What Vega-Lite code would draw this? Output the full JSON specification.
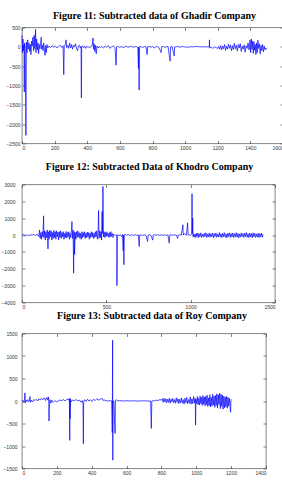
{
  "$schema": "https://vega.github.io/schema/vega-lite/v6.json",
  "background": "white",
  "padding": {"left": 0, "top": 10.5, "right": 0, "bottom": 0},
  "align": "none",
  "spacing": 0,
  "config": {
    "view": {"stroke": "#333", "strokeWidth": 0.6},
    "axis": {"domain": false, "grid": false, "tickSize": -3, "tickColor": "#333", "tickWidth": 0.6, "labelFont": "Liberation Sans", "labelFontSize": 5, "labelColor": "#333", "format": "d"},
    "title": {"font": "Liberation Serif", "fontWeight": "bold", "fontSize": 10, "color": "black", "anchor": "middle"}
  },
  "datasets": {
    "g": [
      {"x":0,"y":300},{"x":3,"y":-150},{"x":6,"y":200},{"x":9,"y":-100},{"x":12,"y":50},{"x":14,"y":-1170},{"x":16,"y":100},{"x":20,"y":-80},{"x":24,"y":-2290},{"x":27,"y":120},{"x":31,"y":-150},{"x":35,"y":180},{"x":39,"y":-60},{"x":43,"y":100},{"x":47,"y":-120},{"x":51,"y":60},{"x":55,"y":-200},{"x":59,"y":150},{"x":63,"y":20},{"x":67,"y":250},{"x":71,"y":-100},{"x":75,"y":300},{"x":79,"y":-50},{"x":83,"y":450},{"x":86,"y":-150},{"x":90,"y":200},{"x":94,"y":-80},{"x":98,"y":100},{"x":102,"y":-180},{"x":106,"y":60},{"x":110,"y":-50},{"x":114,"y":80},{"x":118,"y":250},{"x":121,"y":-60},{"x":125,"y":40},{"x":129,"y":-100},{"x":133,"y":100},{"x":137,"y":-40},{"x":141,"y":-220},{"x":145,"y":30},{"x":149,"y":-150},{"x":153,"y":60},{"x":158,"y":-30},{"x":165,"y":20},{"x":175,"y":-20},{"x":185,"y":30},{"x":195,"y":-10},{"x":205,"y":20},{"x":215,"y":-30},{"x":225,"y":10},{"x":235,"y":40},{"x":245,"y":-20},{"x":252,"y":30},{"x":256,"y":-720},{"x":259,"y":0},{"x":265,"y":60},{"x":270,"y":180},{"x":274,"y":-20},{"x":280,"y":40},{"x":286,"y":-40},{"x":292,"y":100},{"x":298,"y":-30},{"x":304,"y":60},{"x":310,"y":-60},{"x":316,"y":40},{"x":322,"y":0},{"x":328,"y":80},{"x":334,"y":-40},{"x":340,"y":-100},{"x":346,"y":20},{"x":352,"y":40},{"x":358,"y":-30},{"x":362,"y":10},{"x":364,"y":-1320},{"x":366,"y":0},{"x":372,"y":30},{"x":378,"y":-20},{"x":384,"y":10},{"x":390,"y":-40},{"x":396,"y":20},{"x":402,"y":-10},{"x":410,"y":0},{"x":418,"y":-20},{"x":425,"y":20},{"x":430,"y":30},{"x":435,"y":230},{"x":438,"y":-60},{"x":442,"y":80},{"x":446,"y":-120},{"x":450,"y":40},{"x":455,"y":-180},{"x":460,"y":20},{"x":466,"y":-30},{"x":472,"y":10},{"x":480,"y":-20},{"x":490,"y":10},{"x":500,"y":-30},{"x":510,"y":20},{"x":520,"y":-10},{"x":530,"y":30},{"x":540,"y":-40},{"x":550,"y":10},{"x":560,"y":20},{"x":570,"y":-20},{"x":577,"y":-476},{"x":580,"y":0},{"x":590,"y":10},{"x":600,"y":-20},{"x":610,"y":20},{"x":620,"y":-30},{"x":630,"y":0},{"x":640,"y":10},{"x":650,"y":-10},{"x":660,"y":0},{"x":670,"y":20},{"x":680,"y":-10},{"x":690,"y":0},{"x":700,"y":10},{"x":710,"y":-20},{"x":714,"y":-560},{"x":716,"y":0},{"x":718,"y":-1120},{"x":720,"y":0},{"x":730,"y":10},{"x":740,"y":-20},{"x":750,"y":10},{"x":760,"y":0},{"x":767,"y":-200},{"x":770,"y":0},{"x":780,"y":10},{"x":790,"y":-10},{"x":800,"y":10},{"x":810,"y":-30},{"x":820,"y":0},{"x":830,"y":10},{"x":840,"y":-20},{"x":853,"y":-150},{"x":856,"y":0},{"x":865,"y":10},{"x":875,"y":-10},{"x":885,"y":0},{"x":895,"y":10},{"x":908,"y":-370},{"x":911,"y":0},{"x":920,"y":10},{"x":933,"y":-235},{"x":936,"y":0},{"x":945,"y":0},{"x":955,"y":10},{"x":965,"y":-10},{"x":975,"y":0},{"x":985,"y":10},{"x":995,"y":0},{"x":1010,"y":-10},{"x":1030,"y":0},{"x":1050,"y":0},{"x":1070,"y":10},{"x":1090,"y":0},{"x":1110,"y":0},{"x":1130,"y":0},{"x":1148,"y":0},{"x":1149,"y":180},{"x":1151,"y":-30},{"x":1160,"y":-10},{"x":1170,"y":-40},{"x":1180,"y":0},{"x":1190,"y":-20},{"x":1200,"y":-40},{"x":1206,"y":10},{"x":1212,"y":-60},{"x":1218,"y":30},{"x":1224,"y":-80},{"x":1230,"y":20},{"x":1236,"y":-50},{"x":1242,"y":60},{"x":1248,"y":-90},{"x":1254,"y":20},{"x":1260,"y":-60},{"x":1266,"y":70},{"x":1272,"y":-40},{"x":1278,"y":50},{"x":1284,"y":-100},{"x":1290,"y":30},{"x":1296,"y":-70},{"x":1302,"y":90},{"x":1308,"y":-50},{"x":1314,"y":40},{"x":1320,"y":-110},{"x":1326,"y":60},{"x":1332,"y":-30},{"x":1338,"y":80},{"x":1344,"y":-120},{"x":1350,"y":20},{"x":1356,"y":-60},{"x":1362,"y":50},{"x":1368,"y":-140},{"x":1374,"y":30},{"x":1380,"y":-40},{"x":1386,"y":100},{"x":1392,"y":-80},{"x":1398,"y":180},{"x":1402,"y":-150},{"x":1406,"y":200},{"x":1410,"y":-60},{"x":1414,"y":150},{"x":1418,"y":-170},{"x":1422,"y":130},{"x":1426,"y":-90},{"x":1430,"y":60},{"x":1434,"y":-200},{"x":1438,"y":100},{"x":1442,"y":-150},{"x":1446,"y":170},{"x":1450,"y":-40},{"x":1455,"y":80},{"x":1460,"y":-180},{"x":1465,"y":40},{"x":1470,"y":-100},{"x":1475,"y":60},{"x":1480,"y":-130},{"x":1485,"y":20},{"x":1490,"y":-80},{"x":1495,"y":-30},{"x":1500,"y":-60}
    ],
    "k": [
      {"x":0,"y":0},{"x":10,"y":30},{"x":20,"y":-20},{"x":30,"y":10},{"x":40,"y":-40},{"x":50,"y":20},{"x":60,"y":0},{"x":70,"y":40},{"x":80,"y":-30},{"x":90,"y":60},{"x":100,"y":-100},{"x":104,"y":300},{"x":108,"y":-200},{"x":112,"y":150},{"x":116,"y":-250},{"x":120,"y":200},{"x":124,"y":-100},{"x":128,"y":1140},{"x":130,"y":-150},{"x":134,"y":250},{"x":138,"y":-300},{"x":142,"y":200},{"x":146,"y":-150},{"x":150,"y":300},{"x":154,"y":-820},{"x":157,"y":200},{"x":161,"y":-250},{"x":165,"y":280},{"x":169,"y":-100},{"x":173,"y":250},{"x":177,"y":-300},{"x":181,"y":150},{"x":185,"y":-200},{"x":189,"y":280},{"x":193,"y":-150},{"x":197,"y":200},{"x":201,"y":-250},{"x":205,"y":250},{"x":209,"y":-100},{"x":213,"y":180},{"x":217,"y":-300},{"x":221,"y":200},{"x":225,"y":-150},{"x":229,"y":250},{"x":233,"y":-200},{"x":237,"y":150},{"x":241,"y":-100},{"x":245,"y":200},{"x":249,"y":-250},{"x":253,"y":100},{"x":257,"y":-150},{"x":261,"y":220},{"x":265,"y":-180},{"x":269,"y":150},{"x":273,"y":-100},{"x":277,"y":200},{"x":281,"y":-250},{"x":285,"y":100},{"x":289,"y":-150},{"x":293,"y":250},{"x":296,"y":800},{"x":299,"y":-200},{"x":303,"y":300},{"x":306,"y":-2260},{"x":309,"y":200},{"x":312,"y":-1150},{"x":315,"y":150},{"x":319,"y":-250},{"x":323,"y":200},{"x":327,"y":-150},{"x":331,"y":250},{"x":335,"y":-100},{"x":339,"y":150},{"x":343,"y":-200},{"x":347,"y":100},{"x":351,"y":-250},{"x":355,"y":200},{"x":359,"y":-150},{"x":363,"y":150},{"x":367,"y":-100},{"x":371,"y":200},{"x":375,"y":-200},{"x":379,"y":100},{"x":383,"y":-150},{"x":387,"y":180},{"x":391,"y":-100},{"x":395,"y":150},{"x":399,"y":-250},{"x":403,"y":100},{"x":407,"y":-150},{"x":411,"y":200},{"x":415,"y":-100},{"x":419,"y":150},{"x":423,"y":-200},{"x":427,"y":100},{"x":431,"y":-150},{"x":435,"y":200},{"x":439,"y":-100},{"x":443,"y":250},{"x":447,"y":-250},{"x":451,"y":150},{"x":454,"y":1460},{"x":457,"y":-200},{"x":461,"y":250},{"x":465,"y":-150},{"x":469,"y":200},{"x":472,"y":-300},{"x":475,"y":1400},{"x":477,"y":100},{"x":480,"y":2880},{"x":483,"y":-100},{"x":487,"y":200},{"x":491,"y":-150},{"x":495,"y":150},{"x":499,"y":-100},{"x":503,"y":200},{"x":507,"y":-50},{"x":511,"y":100},{"x":515,"y":-150},{"x":519,"y":150},{"x":523,"y":-100},{"x":527,"y":200},{"x":531,"y":-80},{"x":535,"y":100},{"x":540,"y":-150},{"x":543,"y":50},{"x":548,"y":0},{"x":555,"y":0},{"x":562,"y":0},{"x":563,"y":-3000},{"x":565,"y":0},{"x":575,"y":-20},{"x":585,"y":20},{"x":592,"y":-100},{"x":596,"y":30},{"x":600,"y":-920},{"x":602,"y":0},{"x":604,"y":-1760},{"x":606,"y":20},{"x":612,"y":50},{"x":620,"y":-20},{"x":630,"y":40},{"x":640,"y":-30},{"x":650,"y":20},{"x":660,"y":-40},{"x":670,"y":30},{"x":680,"y":-20},{"x":690,"y":10},{"x":695,"y":-680},{"x":698,"y":0},{"x":705,"y":20},{"x":715,"y":-30},{"x":725,"y":20},{"x":735,"y":-20},{"x":745,"y":-380},{"x":748,"y":0},{"x":755,"y":20},{"x":765,"y":-20},{"x":775,"y":-300},{"x":778,"y":0},{"x":785,"y":20},{"x":795,"y":-20},{"x":805,"y":30},{"x":815,"y":-30},{"x":825,"y":20},{"x":835,"y":-20},{"x":845,"y":10},{"x":855,"y":-30},{"x":865,"y":20},{"x":873,"y":-480},{"x":876,"y":0},{"x":885,"y":20},{"x":895,"y":-20},{"x":905,"y":10},{"x":915,"y":0},{"x":923,"y":-200},{"x":926,"y":0},{"x":935,"y":20},{"x":945,"y":0},{"x":954,"y":610},{"x":956,"y":0},{"x":962,"y":100},{"x":968,"y":30},{"x":975,"y":0},{"x":982,"y":730},{"x":985,"y":0},{"x":992,"y":20},{"x":1000,"y":-20},{"x":1006,"y":50},{"x":1008,"y":2450},{"x":1010,"y":100},{"x":1012,"y":1000},{"x":1014,"y":-100},{"x":1018,"y":80},{"x":1022,"y":-120},{"x":1026,"y":60},{"x":1030,"y":-150},{"x":1034,"y":100},{"x":1038,"y":-80},{"x":1042,"y":120},{"x":1046,"y":-160},{"x":1050,"y":80},{"x":1055,"y":-100},{"x":1060,"y":130},{"x":1065,"y":-140},{"x":1070,"y":60},{"x":1075,"y":-120},{"x":1080,"y":100},{"x":1085,"y":-90},{"x":1090,"y":140},{"x":1095,"y":-150},{"x":1100,"y":70},{"x":1105,"y":-110},{"x":1110,"y":120},{"x":1115,"y":-130},{"x":1120,"y":80},{"x":1125,"y":-100},{"x":1130,"y":110},{"x":1135,"y":-160},{"x":1140,"y":90},{"x":1145,"y":-90},{"x":1150,"y":130},{"x":1155,"y":-140},{"x":1160,"y":60},{"x":1165,"y":-110},{"x":1170,"y":150},{"x":1175,"y":-120},{"x":1180,"y":80},{"x":1185,"y":-150},{"x":1190,"y":100},{"x":1195,"y":-100},{"x":1200,"y":140},{"x":1205,"y":-130},{"x":1210,"y":70},{"x":1215,"y":-160},{"x":1220,"y":110},{"x":1225,"y":-90},{"x":1230,"y":130},{"x":1235,"y":-140},{"x":1240,"y":90},{"x":1245,"y":-110},{"x":1250,"y":120},{"x":1255,"y":-150},{"x":1260,"y":80},{"x":1265,"y":-100},{"x":1270,"y":140},{"x":1275,"y":-130},{"x":1280,"y":100},{"x":1285,"y":-160},{"x":1290,"y":70},{"x":1295,"y":-120},{"x":1300,"y":130},{"x":1305,"y":-100},{"x":1310,"y":90},{"x":1315,"y":-140},{"x":1320,"y":110},{"x":1325,"y":-90},{"x":1330,"y":150},{"x":1335,"y":-130},{"x":1340,"y":80},{"x":1345,"y":-150},{"x":1350,"y":120},{"x":1355,"y":-110},{"x":1360,"y":90},{"x":1365,"y":-160},{"x":1370,"y":130},{"x":1375,"y":-100},{"x":1380,"y":100},{"x":1385,"y":-140},{"x":1390,"y":70},{"x":1395,"y":-120},{"x":1400,"y":110},{"x":1405,"y":-150},{"x":1410,"y":90},{"x":1415,"y":-110},{"x":1420,"y":120},{"x":1425,"y":-130},{"x":1429,"y":40}
    ],
    "r": [
      {"x":0,"y":0},{"x":5,"y":20},{"x":10,"y":-30},{"x":14,"y":10},{"x":17,"y":180},{"x":19,"y":-40},{"x":23,"y":20},{"x":28,"y":-10},{"x":33,"y":30},{"x":38,"y":-20},{"x":43,"y":10},{"x":46,"y":100},{"x":48,"y":-30},{"x":53,"y":20},{"x":60,"y":-20},{"x":67,"y":30},{"x":75,"y":10},{"x":82,"y":40},{"x":90,"y":0},{"x":98,"y":50},{"x":105,"y":20},{"x":112,"y":60},{"x":120,"y":30},{"x":128,"y":70},{"x":135,"y":10},{"x":142,"y":80},{"x":148,"y":20},{"x":152,"y":90},{"x":154,"y":-40},{"x":155,"y":-446},{"x":157,"y":-60},{"x":160,"y":30},{"x":165,"y":-50},{"x":170,"y":20},{"x":178,"y":-30},{"x":188,"y":10},{"x":198,"y":-20},{"x":208,"y":0},{"x":218,"y":20},{"x":228,"y":10},{"x":238,"y":30},{"x":248,"y":0},{"x":258,"y":40},{"x":266,"y":20},{"x":272,"y":60},{"x":274,"y":-875},{"x":275,"y":40},{"x":276,"y":-390},{"x":278,"y":50},{"x":282,"y":-20},{"x":290,"y":20},{"x":300,"y":10},{"x":310,"y":30},{"x":320,"y":0},{"x":330,"y":20},{"x":340,"y":-30},{"x":346,"y":10},{"x":350,"y":-60},{"x":352,"y":-950},{"x":354,"y":-20},{"x":360,"y":30},{"x":368,"y":-10},{"x":376,"y":40},{"x":384,"y":0},{"x":392,"y":30},{"x":400,"y":-10},{"x":410,"y":40},{"x":420,"y":10},{"x":430,"y":50},{"x":440,"y":20},{"x":450,"y":40},{"x":458,"y":60},{"x":465,"y":10},{"x":472,"y":30},{"x":478,"y":0},{"x":485,"y":10},{"x":495,"y":0},{"x":505,"y":10},{"x":515,"y":0},{"x":518,"y":-700},{"x":520,"y":1350},{"x":521,"y":-1315},{"x":522,"y":0},{"x":527,"y":0},{"x":534,"y":-720},{"x":536,"y":0},{"x":540,"y":30},{"x":550,"y":0},{"x":560,"y":10},{"x":580,"y":0},{"x":600,"y":5},{"x":620,"y":0},{"x":640,"y":5},{"x":660,"y":0},{"x":680,"y":0},{"x":700,"y":5},{"x":720,"y":0},{"x":738,"y":0},{"x":742,"y":-610},{"x":745,"y":0},{"x":750,"y":10},{"x":760,"y":0},{"x":770,"y":20},{"x":780,"y":10},{"x":790,"y":30},{"x":800,"y":20},{"x":805,"y":50},{"x":810,"y":-30},{"x":815,"y":60},{"x":820,"y":-20},{"x":825,"y":50},{"x":830,"y":-40},{"x":835,"y":40},{"x":840,"y":-30},{"x":845,"y":60},{"x":850,"y":-50},{"x":855,"y":40},{"x":860,"y":-20},{"x":865,"y":60},{"x":870,"y":-40},{"x":875,"y":30},{"x":880,"y":-50},{"x":885,"y":70},{"x":890,"y":-30},{"x":895,"y":50},{"x":900,"y":-60},{"x":905,"y":40},{"x":910,"y":-40},{"x":915,"y":70},{"x":920,"y":-50},{"x":925,"y":30},{"x":930,"y":-70},{"x":935,"y":60},{"x":940,"y":-40},{"x":945,"y":80},{"x":950,"y":-60},{"x":955,"y":30},{"x":960,"y":-50},{"x":965,"y":90},{"x":970,"y":-70},{"x":975,"y":50},{"x":980,"y":-60},{"x":985,"y":100},{"x":990,"y":-40},{"x":994,"y":60},{"x":996,"y":-535},{"x":998,"y":40},{"x":1002,"y":-60},{"x":1006,"y":100},{"x":1010,"y":-80},{"x":1014,"y":60},{"x":1018,"y":-90},{"x":1022,"y":110},{"x":1026,"y":-60},{"x":1030,"y":80},{"x":1034,"y":-100},{"x":1038,"y":120},{"x":1042,"y":-70},{"x":1046,"y":90},{"x":1050,"y":-110},{"x":1054,"y":100},{"x":1058,"y":-80},{"x":1062,"y":130},{"x":1066,"y":-120},{"x":1070,"y":70},{"x":1074,"y":-100},{"x":1078,"y":140},{"x":1082,"y":-130},{"x":1086,"y":80},{"x":1090,"y":-110},{"x":1094,"y":150},{"x":1098,"y":-90},{"x":1102,"y":110},{"x":1106,"y":-140},{"x":1110,"y":120},{"x":1114,"y":-100},{"x":1118,"y":160},{"x":1122,"y":-150},{"x":1126,"y":140},{"x":1130,"y":-80},{"x":1134,"y":170},{"x":1138,"y":-170},{"x":1142,"y":150},{"x":1146,"y":-120},{"x":1150,"y":130},{"x":1154,"y":-180},{"x":1158,"y":110},{"x":1162,"y":-150},{"x":1166,"y":90},{"x":1170,"y":-130},{"x":1174,"y":100},{"x":1178,"y":-160},{"x":1182,"y":80},{"x":1186,"y":-110},{"x":1190,"y":60},{"x":1194,"y":-140},{"x":1197,"y":-250},{"x":1199,"y":40}
    ]
  },
  "vconcat": [
    {
      "title": {"text": "Figure 11: Subtracted data of Ghadir Company", "offset": 4.5, "dx": 2},
      "width": 261, "height": 116,
      "data": {"name": "g"},
      "layer": [
        {"mark": {"type": "line", "color": "#0000ff", "strokeWidth": 0.7},
         "encoding": {
           "x": {"field": "x", "type": "quantitative", "title": " ", "scale": {"domain": [0, 1600], "nice": false, "zero": false}, "axis": {"values": [0,200,400,600,800,1000,1200,1400,1600], "labelPadding": 4.5, "titleFontSize": 8, "titlePadding": 2.5}},
           "y": {"field": "y", "type": "quantitative", "title": null, "scale": {"domain": [-2500, 500], "nice": false, "zero": false}, "axis": {"values": [-2500,-2000,-1500,-1000,-500,0,500], "labelPadding": 5}}
         }},
        {"mark": {"type": "point", "opacity": 0},
         "encoding": {
           "x": {"field": "x", "type": "quantitative", "title": null, "axis": {"orient": "top", "labels": false, "values": [0,200,400,600,800,1000,1200,1400,1600]}},
           "y": {"field": "y", "type": "quantitative", "title": null, "axis": {"orient": "right", "labels": false, "values": [-2500,-2000,-1500,-1000,-500,0,500]}}
         }}
      ],
      "resolve": {"axis": {"x": "independent", "y": "independent"}}
    },
    {
      "title": {"text": "Figure 12: Subtracted Data of Khodro Company", "offset": 10.5, "dx": 1},
      "width": 253, "height": 118,
      "data": {"name": "k"},
      "layer": [
        {"mark": {"type": "line", "color": "#0000ff", "strokeWidth": 0.7},
         "encoding": {
           "x": {"field": "x", "type": "quantitative", "title": null, "scale": {"domain": [0, 1500], "nice": false, "zero": false}, "axis": {"values": [0,500,1000,1500], "labelPadding": 4.5}},
           "y": {"field": "y", "type": "quantitative", "title": null, "scale": {"domain": [-4000, 3000], "nice": false, "zero": false}, "axis": {"values": [-4000,-3000,-2000,-1000,0,1000,2000,3000], "labelPadding": 10}}
         }},
        {"mark": {"type": "point", "opacity": 0},
         "encoding": {
           "x": {"field": "x", "type": "quantitative", "title": null, "axis": {"orient": "top", "labels": false, "values": [0,500,1000,1500]}},
           "y": {"field": "y", "type": "quantitative", "title": null, "axis": {"orient": "right", "labels": false, "values": [-4000,-3000,-2000,-1000,0,1000,2000,3000]}}
         }}
      ],
      "resolve": {"axis": {"x": "independent", "y": "independent"}}
    },
    {
      "title": {"text": "Figure 13: Subtracted data of Roy Company", "offset": 11, "dx": 8},
      "width": 244, "height": 135,
      "data": {"name": "r"},
      "layer": [
        {"mark": {"type": "line", "color": "#0000ff", "strokeWidth": 0.7},
         "encoding": {
           "x": {"field": "x", "type": "quantitative", "title": null, "scale": {"domain": [0, 1400], "nice": false, "zero": false}, "axis": {"values": [0,200,400,600,800,1000,1200,1400], "labelPadding": 4.5}},
           "y": {"field": "y", "type": "quantitative", "title": null, "scale": {"domain": [-1500, 1500], "nice": false, "zero": false}, "axis": {"values": [-1500,-1000,-500,0,500,1000,1500], "labelPadding": 8}}
         }},
        {"mark": {"type": "point", "opacity": 0},
         "encoding": {
           "x": {"field": "x", "type": "quantitative", "title": null, "axis": {"orient": "top", "labels": false, "values": [0,200,400,600,800,1000,1200,1400]}},
           "y": {"field": "y", "type": "quantitative", "title": null, "axis": {"orient": "right", "labels": false, "values": [-1500,-1000,-500,0,500,1000,1500]}}
         }}
      ],
      "resolve": {"axis": {"x": "independent", "y": "independent"}}
    }
  ]
}
